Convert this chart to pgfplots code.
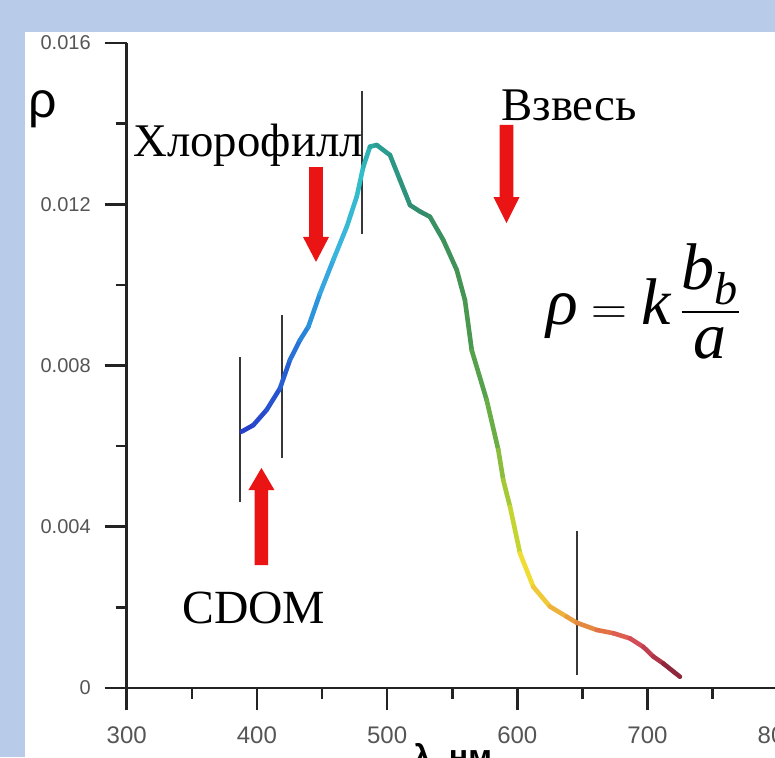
\documentclass[border=0pt]{standalone}
\usepackage{fontspec}
\setmainfont{Liberation Serif}
\setsansfont{Liberation Sans}
\usepackage{amsmath}
\usepackage{pgfplots}
\pgfplotsset{compat=1.18}
\usepackage{pgfplotstable}

\definecolor{bgblue}{RGB}{184,203,232}
\definecolor{tickgray}{RGB}{85,85,85}
\definecolor{axisdark}{RGB}{35,35,35}
\definecolor{markgray}{RGB}{55,55,55}
\definecolor{arrowred}{RGB}{235,20,20}

% reflectance spectrum, lambda in nm
\pgfplotstableread{
lambda rho
388.3 0.00636
397.2 0.00652
407.5 0.00690
417.7 0.00743
425.4 0.00814
433.1 0.00863
439.5 0.00896
448.5 0.00979
458.7 0.01062
469.0 0.01144
476.7 0.01219
481.7 0.01293
486.9 0.01343
492.0 0.01347
502.2 0.01322
509.9 0.01260
517.6 0.01198
525.3 0.01182
532.9 0.01169
543.2 0.01111
553.5 0.01037
559.8 0.00962
565.0 0.00838
576.5 0.00714
585.4 0.00591
589.2 0.00516
594.4 0.00450
602.1 0.00334
612.3 0.00251
625.1 0.00202
637.9 0.00177
645.6 0.00162
661.0 0.00144
673.7 0.00136
686.6 0.00123
696.8 0.00102
704.5 0.00078
712.1 0.00061
724.9 0.00028
}\spectrum

\begin{document}
\begin{tikzpicture}
% slide background
\fill[bgblue] (0,0) rectangle (387.5pt,-378.5pt);
\fill[white] (12.5pt,-16pt) rectangle (387.5pt,-378.5pt);

\begin{axis}[
  at={(63.35pt,-344pt)}, anchor=south west,
  scale only axis, width=325.5pt, height=322.5pt,
  xmin=300, xmax=800, ymin=0, ymax=0.016,
  axis lines*=left,
  axis line style={axisdark, line width=1.4pt},
  xtick={300,400,500,600,700,800},
  minor xtick={350,450,550,650,750},
  ytick={0,0.004,0.008,0.012,0.016},
  minor ytick={0.002,0.006,0.010,0.014},
  xticklabels={\textsf{300},\textsf{400},\textsf{500},\textsf{600},\textsf{700},\textsf{800}},
  yticklabels={\textsf{0},\textsf{0.004},\textsf{0.008},\textsf{0.012},\textsf{0.016}},
  scaled y ticks=false,
  tick align=outside,
  major tick length=11pt, minor tick length=5.5pt,
  tick style={axisdark, line width=1.3pt},
  xticklabel style={font=\fontsize{12}{12}\selectfont, text=tickgray, yshift=-5pt},
  yticklabel style={font=\fontsize{10}{10}\selectfont, text=tickgray, xshift=-3.5pt},
  clip=false,
  colormap={spec}{
    rgb255(388)=(40,60,200)
    rgb255(420)=(40,90,210)
    rgb255(440)=(40,140,220)
    rgb255(460)=(60,180,225)
    rgb255(480)=(50,190,200)
    rgb255(492)=(40,160,150)
    rgb255(525)=(50,140,110)
    rgb255(560)=(70,150,80)
    rgb255(580)=(100,170,70)
    rgb255(595)=(180,210,50)
    rgb255(607)=(240,220,50)
    rgb255(625)=(240,190,60)
    rgb255(645)=(230,150,60)
    rgb255(670)=(225,110,70)
    rgb255(690)=(215,80,90)
    rgb255(710)=(170,50,70)
    rgb255(725)=(120,30,50)
  },
  point meta min=388, point meta max=725,
]

% vertical markers
\addplot[markgray, line width=1.35pt] coordinates {(387.0,0.00821) (387.0,0.00461)};
\addplot[markgray, line width=1.35pt] coordinates {(419.3,0.00925) (419.3,0.00571)};
\addplot[markgray, line width=1.35pt] coordinates {(480.7,0.01481) (480.7,0.01126)};
\addplot[markgray, line width=1.35pt] coordinates {(645.8,0.00389) (645.8,0.00032)};

% spectrum coloured by wavelength
\addplot[mesh, point meta=x, line width=2.3pt, line cap=round, line join=round] table[x=lambda, y=rho] {\spectrum};

% red arrows
\addplot[fill=arrowred, draw=none] coordinates {
  (440.2,0.01292) (450.6,0.01292) (450.6,0.01119) (455.4,0.01119)
  (445.4,0.01057) (435.4,0.01119) (440.2,0.01119)} -- cycle;
\addplot[fill=arrowred, draw=none] coordinates {
  (586.5,0.01397) (596.9,0.01397) (596.9,0.01218) (601.7,0.01218)
  (591.7,0.01153) (581.7,0.01218) (586.5,0.01218)} -- cycle;
\addplot[fill=arrowred, draw=none] coordinates {
  (398.3,0.00305) (408.7,0.00305) (408.7,0.00491) (413.5,0.00491)
  (403.5,0.00546) (393.5,0.00491) (398.3,0.00491)} -- cycle;
\end{axis}

\begin{scope}[x=0.5pt, y=-0.5pt]
  \node[anchor=base west, inner sep=0, font=\fontsize{23.4}{23.4}\selectfont] at (133,156) {Хлорофилл};
  \node[anchor=base west, inner sep=0, font=\fontsize{23.4}{23.4}\selectfont] at (501,120) {Взвесь};
  \node[anchor=base west, inner sep=0, font=\fontsize{23.8}{23.8}\selectfont] at (182,623) {CDOM};
  \node[anchor=base west, inner sep=0, font=\sffamily\fontsize{25}{25}\selectfont] at (28,117) {ρ};
  \node[anchor=base west, inner sep=0, font=\fontsize{33}{33}\selectfont] at (546,324)
    {$\text{\itshape ρ} = \text{\itshape k}\,\dfrac{\text{\itshape b}_{\text{\itshape b}}}{\text{\itshape a}}$};
  \node[anchor=north west, inner sep=0, font=\sffamily\bfseries\fontsize{16}{16}\selectfont] at (413,743) {λ, нм};
\end{scope}

\pgfresetboundingbox
\path[use as bounding box] (0,0) rectangle (387.5pt,-378.5pt);
\end{tikzpicture}
\end{document}
